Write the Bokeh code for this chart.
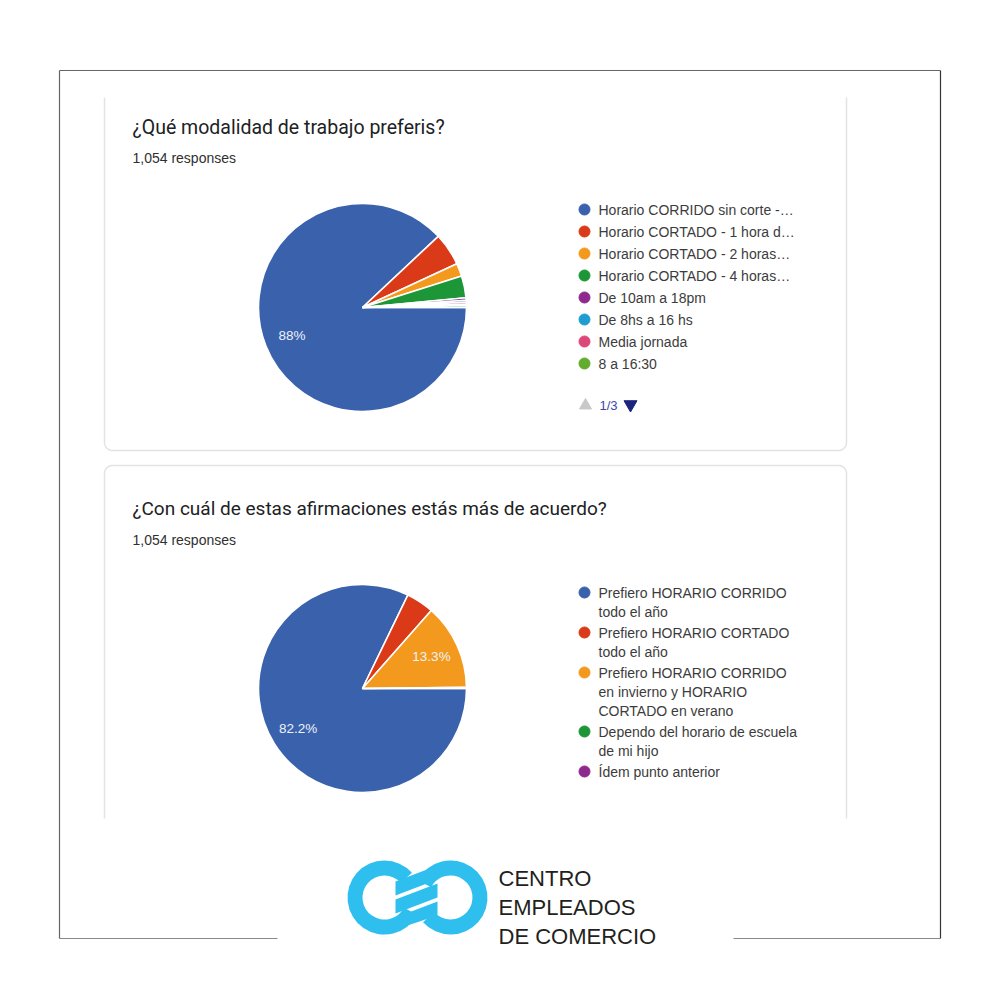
import math
import numpy as np
from bokeh.plotting import figure
from bokeh.models import ColumnDataSource
from bokeh.core.properties import value
from bokeh.embed import file_html
from bokeh.resources import INLINE

W = H = 1004

# ---------------- data ----------------
q1_title = "¿Qué modalidad de trabajo preferis?"
q1_responses = "1,054 responses"
q1_labels = [
    "Horario CORRIDO sin corte -…",
    "Horario CORTADO - 1 hora d…",
    "Horario CORTADO - 2 horas…",
    "Horario CORTADO - 4 horas…",
    "De 10am a 18pm",
    "De 8hs a 16 hs",
    "Media jornada",
    "8 a 16:30",
    "",  # remaining options (legend pages 2-3)
]
q1_values = [88.0, 5.1, 2.0, 3.4, 0.4, 0.3, 0.3, 0.2, 0.3]
q1_colors = ["#3A62AC", "#DA3A17", "#F39A1E", "#1C9636", "#8E2A8E",
             "#1E9ED0", "#DE4779", "#62AC2E", "#22AA99"]
q1_page = "1/3"

q2_title = "¿Con cuál de estas afirmaciones estás más de acuerdo?"
q2_responses = "1,054 responses"
q2_labels = [
    "Prefiero HORARIO CORRIDO\ntodo el año",
    "Prefiero HORARIO CORTADO\ntodo el año",
    "Prefiero HORARIO CORRIDO\nen invierno y HORARIO\nCORTADO en verano",
    "Dependo del horario de escuela\nde mi hijo",
    "Ídem punto anterior",
]
q2_values = [82.2, 4.3, 13.3, 0.1, 0.1]
q2_colors = ["#3A62AC", "#DA3A17", "#F39A1E", "#1C9636", "#8E2A8E"]

logo_lines = ["CENTRO", "EMPLEADOS", "DE COMERCIO"]

# ---------------- figure ----------------
p = figure(width=W, height=H, x_range=(0, W), y_range=(0, H),
           output_backend="svg", toolbar_location=None,
           x_axis_location=None, y_axis_location=None, min_border=0)
p.grid.visible = False
p.outline_line_color = None
p.background_fill_color = "white"
p.border_fill_color = "white"


def Y(y):
    return H - y


def txt(x, y, s, size, color, font="Roboto", baseline="middle", align="left", style="normal"):
    p.text(x=[x], y=[Y(y)], text=[s], text_font=value(font), text_font_size=value(size),
           text_color=color, text_baseline=baseline, text_align=align, text_font_style=style)


# outer frame
fc = "#666666"
p.line([59, 59], [Y(70), Y(938)], line_color=fc, line_width=1.2)
p.line([940, 940], [Y(70), Y(938)], line_color="#333333", line_width=1.2)
p.line([59, 940], [Y(70), Y(70)], line_color=fc, line_width=1.2)
p.line([59, 277], [Y(938), Y(938)], line_color="#888888", line_width=1.2)
p.line([733, 940], [Y(938), Y(938)], line_color="#888888", line_width=1.2)


def arc_pts(cx, cy, r, t0, t1, n=12):
    t = np.linspace(t0, t1, n)
    return list(cx + r * np.cos(t)), list(cy + r * np.sin(t))


def card_bottom(x0, x1, ytop, ybot, r=8):
    xs, ys = [x0, x0], [ytop, ybot - r]
    ax, ay = arc_pts(x0 + r, ybot - r, r, math.pi, math.pi / 2)
    xs += ax; ys += ay
    ax, ay = arc_pts(x1 - r, ybot - r, r, math.pi / 2, 0)
    xs += ax; ys += ay
    xs += [x1]; ys += [ytop]
    p.line(xs, [Y(v) for v in ys], line_color="#e3e3e3", line_width=1.5)


def card_top(x0, x1, ytop, ybot, r=8):
    xs, ys = [x0, x0], [ybot, ytop + r]
    ax, ay = arc_pts(x0 + r, ytop + r, r, math.pi, 1.5 * math.pi)
    xs += ax; ys += ay
    ax, ay = arc_pts(x1 - r, ytop + r, r, 1.5 * math.pi, 2 * math.pi)
    xs += ax; ys += ay
    xs += [x1]; ys += [ybot]
    p.line(xs, [Y(v) for v in ys], line_color="#e3e3e3", line_width=1.5)


card_bottom(104, 846, 97, 450)
card_top(104, 846, 465, 818)


def pie(cx, cy, r, values, colors):
    total = float(sum(values))
    starts, ends, lx, ly, lt = [], [], [], [], []
    cum = 0.0
    for v in values:
        a0 = -2 * math.pi * (cum + v) / total
        a1 = -2 * math.pi * cum / total
        starts.append(a0)
        ends.append(a1)
        if v / total >= 0.10:
            mid = (a0 + a1) / 2
            lx.append(cx + 0.73 * r * math.cos(mid))
            ly.append(Y(cy) + 0.73 * r * math.sin(mid))
            s = f"{v:.1f}".rstrip("0").rstrip(".") + "%"
            lt.append(s)
        cum += v
    src = ColumnDataSource(dict(x=[cx] * len(values), y=[Y(cy)] * len(values),
                                s=starts, e=ends, c=colors))
    p.wedge(x="x", y="y", radius=r, start_angle="s", end_angle="e", direction="anticlock",
            fill_color="c", line_color="white", line_width=1.6, source=src)
    p.text(x=lx, y=ly, text=lt, text_font=value("Liberation Sans"), text_font_size=value("13.5px"),
           text_color="#eef2fa", text_align="center", text_baseline="middle")


LEG_FONT = "14px"
LEG_COL = "#3c3c3c"

# ---- card 1 ----
txt(132, 127, q1_title, "19.5px", "#202124", baseline="alphabetic")
txt(132, 157, q1_responses, "14px", "#303030", font="Liberation Sans", baseline="alphabetic")
pie(362, 307, 104, q1_values, q1_colors)
leg1 = [(l, c) for l, c in zip(q1_labels, q1_colors) if l]
for i, (lab, col) in enumerate(leg1):
    yy = 209 + 22 * i
    p.scatter([584], [Y(yy)], size=11, marker="circle", fill_color=col, line_color=col)
    txt(598, yy, lab, LEG_FONT, LEG_COL, font="Liberation Sans")
p.scatter([585], [Y(405)], size=12, marker="triangle", fill_color="#c8c8c8", line_color="#c8c8c8")
txt(599, 405, q1_page, "13px", "#3949ab", font="Liberation Sans")
p.scatter([630], [Y(404)], size=13, marker="inverted_triangle", fill_color="#1a237e", line_color="#1a237e")

# ---- card 2 ----
txt(132, 508, q2_title, "19px", "#202124", baseline="alphabetic")
txt(132, 539, q2_responses, "14px", "#303030", font="Liberation Sans", baseline="alphabetic")
pie(362, 688, 104, q2_values, q2_colors)
yy = 592
for lab, col in zip(q2_labels, q2_colors):
    p.scatter([584], [Y(yy)], size=11, marker="circle", fill_color=col, line_color=col)
    lines = lab.split("\n")
    for j, ln in enumerate(lines):
        txt(598, yy + 19 * j, ln, LEG_FONT, LEG_COL, font="Liberation Sans")
    yy += 19 * len(lines) + 2

# ---- logo ----
lc = "#2FBFEF"
p.annular_wedge(x=[384], y=[Y(897)], inner_radius=22, outer_radius=37,
                start_angle=math.radians(42), end_angle=math.radians(-28), direction="anticlock",
                fill_color=lc, line_color=None)
p.annular_wedge(x=[450], y=[Y(897)], inner_radius=22, outer_radius=37,
                start_angle=math.radians(222), end_angle=math.radians(152), direction="anticlock",
                fill_color=lc, line_color=None)
stripes = [((395, 881, 895), (437, 865, 879)),
           ((395, 899, 913), (437, 883, 897)),
           ((395, 917, 929), (437, 901, 915))]
for (xa, ya0, ya1), (xb, yb0, yb1) in stripes:
    p.patch([xa, xb, xb, xa], [Y(ya0), Y(yb0), Y(yb1), Y(ya1)], fill_color=lc, line_color=None)
p.patch([437, 452, 440, 425], [Y(865), Y(860), Y(875), Y(879)], fill_color=lc, line_color=None)
p.patch([395, 382, 394, 409], [Y(929), Y(934), Y(919), Y(917)], fill_color=lc, line_color=None)

for i, s in enumerate(logo_lines):
    txt(498, 878 + 29 * i, s, "22px", "#231f20", font="Liberation Sans", baseline="alphabetic")

open("out.html", "w").write(file_html(p, INLINE))
